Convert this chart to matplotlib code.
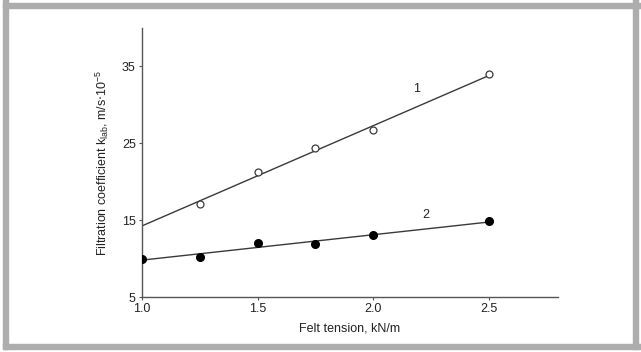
import matplotlib.pyplot as plt
from matplotlib.patches import Rectangle

plt.rcParams['font.family'] = ['Liberation Sans', 'DejaVu Sans']

# curve 1 (open circles)
x1 = [1.25, 1.5, 1.75, 2.0, 2.5]
y1 = [17.1, 21.3, 24.35, 26.7, 34.0]
fit1_x = [1.0, 2.5]
fit1_y = [14.25, 33.8]

# curve 2 (filled circles)
x2 = [1.0, 1.25, 1.5, 1.75, 2.0, 2.5]
y2 = [9.95, 10.2, 12.0, 11.9, 13.1, 14.9]
fit2_x = [1.0, 2.5]
fit2_y = [9.8, 14.75]

xticks = [1.0, 1.5, 2.0, 2.5]
yticks = [5, 15, 25, 35]

fig = plt.figure(figsize=(6.41, 3.52), dpi=100)
ax = fig.add_axes([142 / 641, 1 - 297 / 352, (558 - 142) / 641, (297 - 28) / 352])

col = '#3a3a3a'
ax.plot(fit1_x, fit1_y, color=col, lw=1.0, zorder=2)
ax.plot(fit2_x, fit2_y, color=col, lw=1.0, zorder=2)
ax.plot(x1, y1, 'o', ms=5, mfc='white', mec=col, mew=0.9, zorder=3)
ax.plot(x2, y2, 'o', ms=5.5, mfc='black', mec='black', zorder=3)

ax.text(2.19, 32.0, '1', fontsize=9, ha='center', va='center', color='#222222')
ax.text(2.23, 15.7, '2', fontsize=9, ha='center', va='center', color='#222222')

ax.set_xlim(1.0, 2.8)
ax.set_ylim(5, 40)
ax.set_xticks(xticks)
ax.set_xticklabels(['1.0', '1.5', '2.0', '2.5'])
ax.set_yticks(yticks)
for s in ['top', 'right']:
    ax.spines[s].set_visible(False)
for s in ['left', 'bottom']:
    ax.spines[s].set_color('#555555')
    ax.spines[s].set_linewidth(1.0)
ax.tick_params(direction='out', length=2.5, width=0.8, color='#555555',
               labelsize=9, labelcolor='#222222', pad=2)

ax.set_xlabel('Felt tension, kN/m', fontsize=9, color='#222222', labelpad=5)
ax.set_ylabel(r'Filtration coefficient k$_\mathregular{lab}$, m/s$\cdot$10$^\mathregular{-5}$',
              fontsize=9, color='#222222', labelpad=8)

# grey frame round the figure
g = '#adadad'
fig.patches.append(Rectangle((3 / 641, 3 / 352), 1, 5 / 352, transform=fig.transFigure,
                             color=g, zorder=0))
fig.patches.append(Rectangle((3 / 641, 1 - 8 / 352), 1, 5 / 352, transform=fig.transFigure,
                             color=g, zorder=0))
fig.patches.append(Rectangle((3 / 641, 3 / 352), 5 / 641, 1, transform=fig.transFigure,
                             color=g, zorder=0))
fig.patches.append(Rectangle((1 - 8 / 641, 3 / 352), 5 / 641, 1, transform=fig.transFigure,
                             color=g, zorder=0))

fig.savefig('out.png', dpi=100)
